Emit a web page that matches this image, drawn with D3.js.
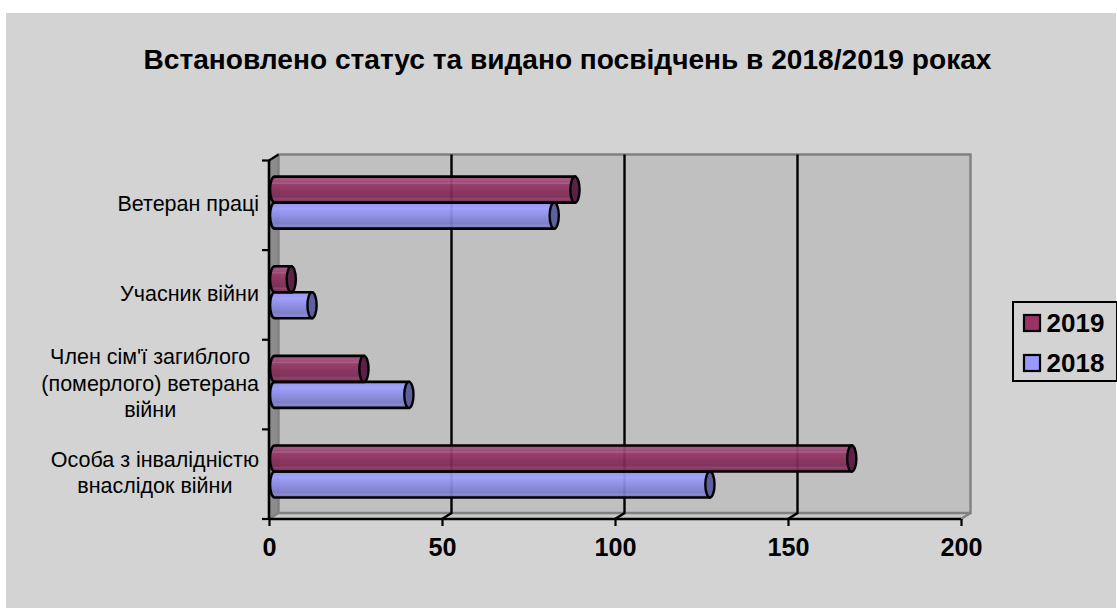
<!DOCTYPE html>
<html><head><meta charset="utf-8">
<script src="https://cdn.jsdelivr.net/npm/d3@7/dist/d3.min.js"></script>
<style>html,body{margin:0;padding:0;background:#fff}svg{display:block}text{font-family:"Liberation Sans",Arial,sans-serif;fill:#000}</style>
</head><body><svg id="c" width="1117" height="608"></svg>
<script>
const titleText = "Встановлено статус та видано посвідчень в 2018/2019 роках";
const categories = ["Ветеран праці","Учасник війни","Член сім'ї загиблого|(померлого) ветерана|війни","Особа з інвалідністю|внаслідок війни"];
const values2019 = [88,6,27,168];
const values2018 = [82,12,40,127];
const seriesNames = ["2019","2018"];
const xTicks = [0,50,100,150,200];

const svg = d3.select("#c");
const x = d3.scaleLinear().domain([0,200]).range([269,961]);
const y = d3.scaleBand().domain(categories).range([160.5,519]);
const inner = d3.scaleBand().domain(seriesNames).range([0,52]);
const dx=9.5, dy=-6, by0=y.bandwidth()/2-29;

const defs = svg.append("defs");
function grad(id,stops){
  const g=defs.append("linearGradient").attr("id",id).attr("x1",0).attr("x2",0).attr("y1",0).attr("y2",1);
  stops.forEach(s=>g.append("stop").attr("offset",s[0]).attr("stop-color",s[1]));
}
grad("g2019",[[0,"#96446f"],[.12,"#a3517f"],[.2,"#9c4373"],[.26,"#a85a84"],[.3,"#953766"],[.6,"#862b5a"],[.78,"#7c2a54"],[.86,"#8a4068"],[.93,"#7a2a52"],[1,"#70264c"]]);
grad("g2018",[[0,"#8f8fef"],[.12,"#9a9af8"],[.24,"#a0a0ff"],[.3,"#9999fb"],[.6,"#8787dd"],[.8,"#7a7ac8"],[.88,"#8686cf"],[1,"#7070bb"]]);

svg.append("rect").attr("x",6).attr("y",13).attr("width",1110).attr("height",595).attr("fill","#d3d3d3");
svg.append("text").attr("x",567.5).attr("y",69).attr("text-anchor","middle").attr("font-size",28.1).attr("font-weight",700).text(titleText);

// walls
const yTop=y.range()[0], yBot=y.range()[1], x0=x(0), x1=x(200);
svg.append("path").attr("d",`M${x0},${yTop}L${x0+dx},${yTop+dy}V${yBot+dy}L${x0},${yBot}Z`).attr("fill","#8c8c8c");
svg.append("path").attr("d",`M${x0},${yBot}L${x0+dx},${yBot+dy}H${x1+dx}L${x1},${yBot}Z`).attr("fill","#c8c8c8");
svg.append("rect").attr("x",x0+dx).attr("y",yTop+dy).attr("width",x1-x0).attr("height",yBot-yTop).attr("fill","#c0c0c0");
svg.append("path").attr("d",`M${x0+dx},${yBot+dy}V${yTop+dy}H${x1+dx}V${yBot+dy}H${x0+dx}M${x0},${yBot}L${x0+dx},${yBot+dy}M${x1},${yBot}L${x1+dx},${yBot+dy}`).attr("fill","none").attr("stroke","#808080").attr("stroke-width",2.4);

// gridlines
svg.selectAll(".grid").data(xTicks.slice(1,-1)).join("path").attr("class","grid")
 .attr("d",d=>`M${x(d)+dx},${yTop+dy}V${yBot+dy}L${x(d)},${yBot}`).attr("fill","none").attr("stroke","#000").attr("stroke-width",2.4);

// axes
const xAxis=d3.axisBottom(x).tickValues(xTicks).tickSize(7).tickPadding(12).tickFormat(d3.format("d"));
const gx=svg.append("g").attr("transform",`translate(0,${yBot})`).call(xAxis);
gx.select(".domain").attr("stroke-width",2.4).attr("d",`M${x0},0H${x1}`);
gx.selectAll("line").attr("stroke-width",2.2);
gx.selectAll("text").attr("font-size",25.2).attr("font-weight",700);
const gy=svg.append("g").attr("transform",`translate(${x0},0)`);
gy.append("path").attr("d",`M0,${yTop}V${yBot}`).attr("stroke","#000").attr("stroke-width",2.6);
const yTickPos=[...categories.map(c=>y(c)),yBot];
gy.selectAll(".t").data(yTickPos).join("line").attr("class","t").attr("x1",-7).attr("x2",0).attr("y1",d=>d).attr("y2",d=>d).attr("stroke","#000").attr("stroke-width",2.2);
svg.append("path").attr("d",`M${x0},${yTop}L${x0+dx},${yTop+dy}`).attr("stroke","#000").attr("stroke-width",2.2);

// category labels
const labelSize=21.5;
categories.forEach(c=>{
  const lines=c.split("|"), lh=26.5, cy=y(c)+y.bandwidth()/2-1;
  const t=svg.append("text").attr("font-size",labelSize).attr("text-anchor","middle");
  const m=svg.append("text").attr("font-size",labelSize);
  let maxW=0;
  lines.forEach(l=>{m.text(l);maxW=Math.max(maxW,m.node().getComputedTextLength());});
  m.remove();
  lines.forEach((l,i)=>t.append("tspan").attr("x",259-maxW/2).attr("y",cy+(i-(lines.length-1)/2)*lh+7).text(l));
});

// bars
const series=[{name:"2019",vals:values2019,fill:"url(#g2019)",cap:"#5c2146",solid:"#993366"},{name:"2018",vals:values2018,fill:"url(#g2018)",cap:"#5f5f9e",solid:"#9999ff"}];
series.slice().reverse().forEach(s=>{
  const g=svg.append("g");
  categories.forEach((c,i)=>{
    const yy=y(c)+by0+inner(s.name)+.3, h=inner.bandwidth(), xe=x(s.vals[i])+1.5, xs=x(0)+1, r=4.6;
    g.append("path").attr("d",`M${xe},${yy}H${xs+r}A${r},${h/2} 0 0 0 ${xs+r},${yy+h}H${xe}Z`).attr("fill",s.fill).attr("fill-opacity",.93).attr("stroke","#000").attr("stroke-width",2.6);
    g.append("ellipse").attr("cx",xe).attr("cy",yy+h/2).attr("rx",r).attr("ry",h/2).attr("fill",s.cap).attr("stroke","#000").attr("stroke-width",2.4);
  });
});

// legend
const lg=svg.append("g");
lg.append("rect").attr("x",1013).attr("y",302).attr("width",104).attr("height",79).attr("fill","#d3d3d3").attr("stroke","#000").attr("stroke-width",2);
series.forEach((s,i)=>{
  const ly=323+i*40;
  lg.append("rect").attr("x",1024).attr("y",ly-8).attr("width",16).attr("height",16).attr("fill",s.solid).attr("stroke","#000").attr("stroke-width",2.2);
  lg.append("text").attr("x",1046.5).attr("y",ly+9).attr("font-size",26).attr("font-weight",700).text(s.name);
});
</script></body></html>
